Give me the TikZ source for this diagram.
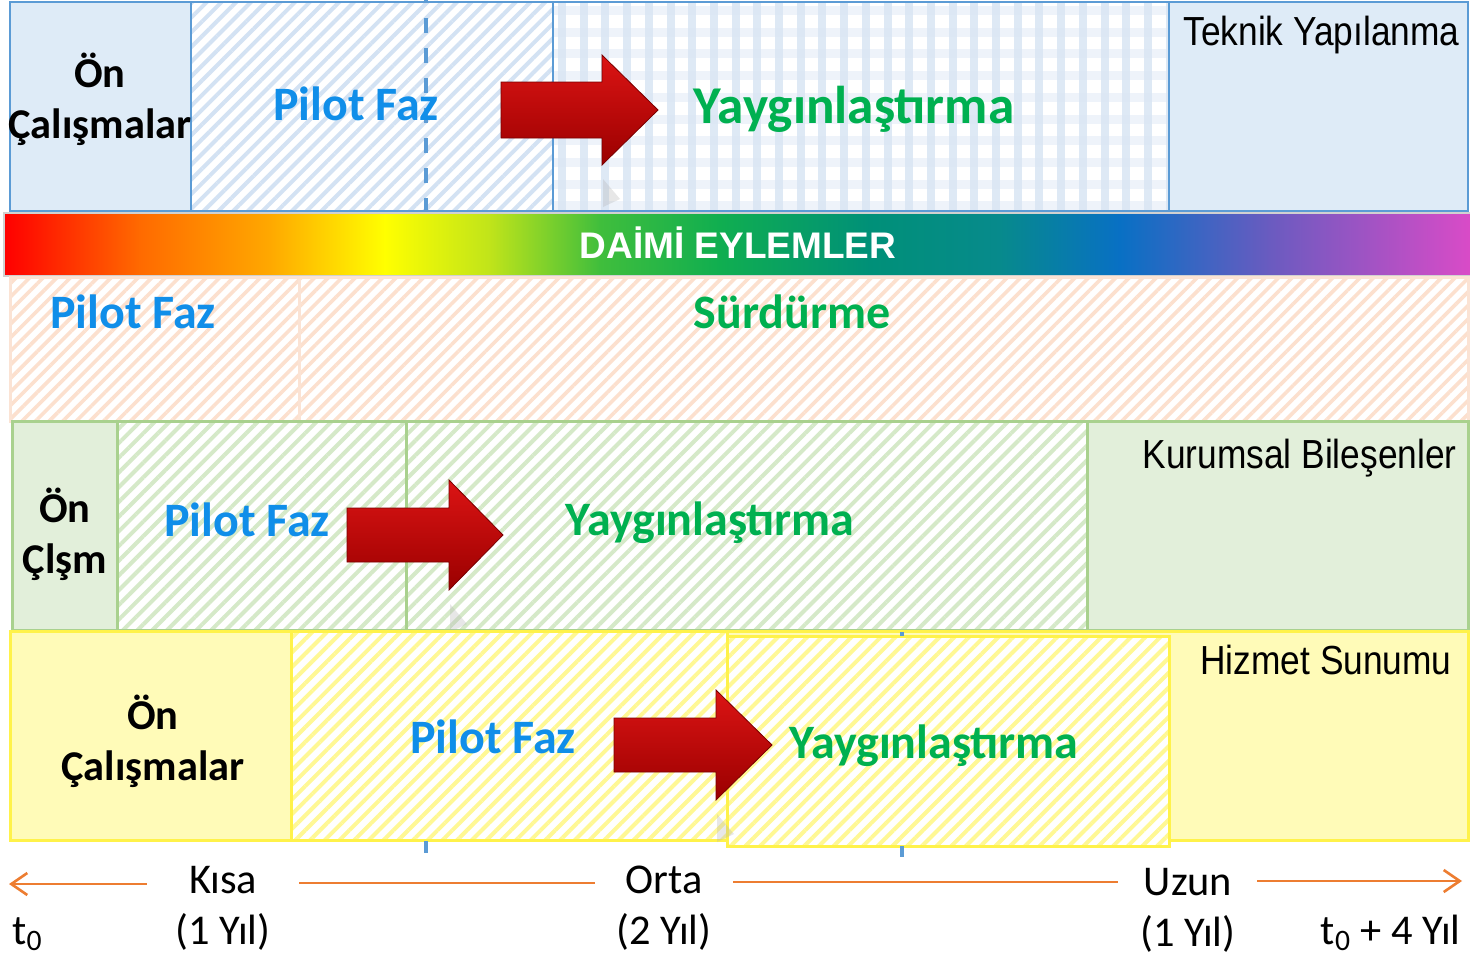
\documentclass[tikz,border=0pt]{standalone}
\usepackage{fontspec}
\setmainfont{Carlito}
\newfontfamily\mynarrowfont[FakeStretch=0.87]{Liberation Sans}
\newfontfamily\myarialfont{Liberation Sans}
\usetikzlibrary{patterns.meta,arrows.meta}
\definecolor{bordblue}{HTML}{5B9BD5}
\definecolor{fillblue}{HTML}{DEEBF7}
\definecolor{hatchblue}{HTML}{D3E2F3}
\definecolor{checkH}{HTML}{EEF3FA}
\definecolor{checkV}{HTML}{D9E6F4}
\definecolor{bordgreen}{HTML}{A9D18E}
\definecolor{fillgreen}{HTML}{E2EFDA}
\definecolor{hatchgreen}{HTML}{D5E9C8}
\definecolor{bordyellow}{HTML}{FFF24A}
\definecolor{fillyellow}{HTML}{FFFBB8}
\definecolor{hatchyellow}{HTML}{FFF894}
\definecolor{bordorange}{HTML}{FBE3D4}
\definecolor{hatchorange}{HTML}{FCE0CE}
\definecolor{txtblue}{HTML}{108EE9}
\definecolor{txtgreen}{HTML}{00B050}
\definecolor{axisorange}{HTML}{ED7D31}
\definecolor{arrtop}{HTML}{DC1414}
\definecolor{arrmid}{HTML}{C40000}
\definecolor{arrbot}{HTML}{9A0000}
\definecolor{arrline}{HTML}{780000}
\newcommand\mybig{\fontsize{24}{28}\selectfont\bfseries}
\newcommand\myhuge{\fontsize{26.6}{30}\selectfont\bfseries}
\newcommand\myon{\fontsize{21.2}{25}\selectfont\bfseries}
\newcommand\myaxis{\fontsize{21.2}{25}\selectfont}
\newcommand\mylab{\fontsize{20.3}{24}\selectfont\mynarrowfont}
\newcommand\myRedArrow[6]{%
  \shade[top color=arrtop, middle color=arrmid, bottom color=arrbot, draw=arrline, line width=0.4pt]
    (#1,#4-#5) -- (#2,#4-#5) -- (#2,#4-#6) -- (#3,#4) -- (#2,#4+#6) -- (#2,#4+#5) -- (#1,#4+#5) -- cycle;
  \fill[black!30, opacity=0.3] (#2+1,#4+#6+14) -- (#2+18,#4+#6+34) -- (#2+1,#4+#6+42) -- cycle;
}
\tikzset{
  hatchB/.style={preaction={fill=white}, pattern={Lines[angle=45,distance=5.2pt,line width=2pt]}, pattern color=hatchblue},
  hatchG/.style={preaction={fill=white}, pattern={Lines[angle=45,distance=5.2pt,line width=2pt]}, pattern color=hatchgreen},
  hatchY/.style={preaction={fill=white}, pattern={Lines[angle=45,distance=5.2pt,line width=2pt]}, pattern color=hatchyellow},
  hatchO/.style={preaction={fill=white}, pattern={Lines[angle=45,distance=4.8pt,line width=1.8pt]}, pattern color=hatchorange},
  ttl/.style={inner sep=0pt, anchor=base},
  pilot/.style={ttl, font=\mybig, text=txtblue},
  yayg/.style={ttl, font=\mybig, text=txtgreen},
  ontxt/.style={ttl, font=\myon, text=black},
  lab/.style={inner sep=0pt, anchor=base east, font=\mylab, text=black},
  axtxt/.style={inner sep=0pt, anchor=base, font=\myaxis, text=black},
  axline/.style={draw=axisorange, line width=1.3pt},
  tick/.style={draw=bordblue, line width=2pt},
}
\begin{document}
\begin{tikzpicture}[x=0.5pt,y=-0.5pt]
\useasboundingbox (0,0) rectangle (1470,959);
\fill[white] (0,0) rectangle (1470,959);

% ---------- Row 1: Teknik Yapilanma ----------
\fill[fillblue] (10,2) rectangle (1468,211);
\path[hatchB] (191,2) rectangle (553,211);
\begin{scope}
  \clip (553,2) rectangle (1169,211);
  \fill[white] (553,2) rectangle (1169,211);
  \foreach \yy in {0,21.7,...,215} \fill[checkH] (553,\yy+6) rectangle (1169,\yy+15);
  \foreach \xx in {558,579.7,...,1170} \fill[checkV, opacity=0.85] (\xx,2) rectangle (\xx+8,211);
\end{scope}
\draw[bordblue, line width=1.2pt] (10,2) rectangle (1468,211);
\draw[bordblue, line width=1.2pt] (191,2) -- (191,211);
\draw[bordblue, line width=1.2pt] (553,2) -- (553,211);
\draw[bordblue, line width=1.2pt] (1169,2) -- (1169,211);
\draw[bordblue, line width=2pt, dash pattern=on 7.5pt off 7.5pt, dash phase=6pt] (426,0) -- (426,211);
\myRedArrow{501}{602}{658}{110}{28}{55}
\node[ontxt] (on1a) at (100,87) {Ön};
\node[ontxt] (on1b) at (100,138) {Çalışmalar};
\node[pilot] (pf1) at (356,120) {Pilot Faz};
\node[ttl, font=\myhuge, text=txtgreen] (yg1) at (854,123) {Yaygınlaştırma};
\node[lab] (tek) at (1460,45) {Teknik Yapılanma};

% ---------- Row 2: rainbow bar ----------
\fill[black!18] (3,212) rectangle (1470,277);
\shade[left color={rgb,255:red,255;green,0;blue,0}, right color={rgb,255:red,255;green,106;blue,0}] (5,214) rectangle (140,274);
\shade[left color={rgb,255:red,255;green,106;blue,0}, right color={rgb,255:red,255;green,168;blue,0}] (139.5,214) rectangle (270,274);
\shade[left color={rgb,255:red,255;green,168;blue,0}, right color={rgb,255:red,255;green,255;blue,0}] (269.5,214) rectangle (385,274);
\shade[left color={rgb,255:red,255;green,255;blue,0}, right color={rgb,255:red,192;green,228;blue,26}] (384.5,214) rectangle (490,274);
\shade[left color={rgb,255:red,192;green,228;blue,26}, right color={rgb,255:red,64;green,190;blue,60}] (489.5,214) rectangle (600,274);
\shade[left color={rgb,255:red,64;green,190;blue,60}, right color={rgb,255:red,16;green,174;blue,80}] (599.5,214) rectangle (720,274);
\shade[left color={rgb,255:red,16;green,174;blue,80}, right color={rgb,255:red,0;green,144;blue,120}] (719.5,214) rectangle (870,274);
\shade[left color={rgb,255:red,0;green,144;blue,120}, right color={rgb,255:red,7;green,138;blue,140}] (869.5,214) rectangle (1000,274);
\shade[left color={rgb,255:red,7;green,138;blue,140}, right color={rgb,255:red,8;green,112;blue,196}] (999.5,214) rectangle (1120,274);
\shade[left color={rgb,255:red,8;green,112;blue,196}, right color={rgb,255:red,106;green,91;blue,192}] (1119.5,214) rectangle (1270,274);
\shade[left color={rgb,255:red,106;green,91;blue,192}, right color={rgb,255:red,217;green,75;blue,199}] (1269.5,214) rectangle (1470,274);
\node[ttl, font=\fontsize{18.5}{22}\selectfont\myarialfont\bfseries, text=white] (daimi) at (738,258) {DAİMİ EYLEMLER};

% ---------- Row 3: Surdurme ----------
\path[hatchO] (10,277) rectangle (1468,421);
\draw[bordorange, line width=1.5pt] (10,277) rectangle (1468,421);
\draw[bordorange, line width=1.5pt] (299,277) -- (299,421);
\node[pilot] (pf3) at (133,328) {Pilot Faz};
\node[yayg] (sur) at (792,328) {Sürdürme};

% ---------- Row 4: Kurumsal Bilesenler ----------
\fill[fillgreen] (12,421) rectangle (1468,630);
\path[hatchG] (117,421) rectangle (406,630);
\path[hatchG] (406,421) rectangle (1087,630);
\draw[bordgreen, line width=1.5pt] (12,421) rectangle (1468,630);
\draw[bordgreen, line width=1.5pt] (117,421) rectangle (406,630);
\draw[bordgreen, line width=1.5pt] (406,421) rectangle (1087,630);
\myRedArrow{347}{449}{503}{535}{27}{55}
\node[ontxt] (on4a) at (65,522) {Ön};
\node[ontxt] (on4b) at (65,573) {Çlşm};
\node[pilot] (pf4) at (247,536) {Pilot Faz};
\node[yayg] (yg4) at (710,535) {Yaygınlaştırma};
\node[lab] (kur) at (1457,468) {Kurumsal Bileşenler};

% ---------- Row 5: Hizmet Sunumu ----------
\fill[fillyellow] (10,631) rectangle (1468,840);
\path[hatchY] (291,631) rectangle (727,840);
\draw[bordyellow, line width=1.5pt] (10,631) rectangle (1468,840);
\draw[bordyellow, line width=1.5pt] (291,631) rectangle (727,840);
\path[hatchY] (727,636) rectangle (1169,846);
\draw[bordyellow, line width=1.5pt] (727,636) rectangle (1169,846);
\myRedArrow{614}{716}{772}{745}{27}{55}
\node[ontxt] (on5a) at (153,729) {Ön};
\node[ontxt] (on5b) at (153,780) {Çalışmalar};
\node[pilot] (pf5) at (493,753) {Pilot Faz};
\node[yayg] (yg5) at (934,758) {Yaygınlaştırma};
\node[lab] (hiz) at (1452,674) {Hizmet Sunumu};

% ticks (remnants of the phase separators)
\draw[tick] (426,841) -- (426,853);
\draw[tick] (902,846) -- (902,857);
\draw[tick] (902,632) -- (902,636);

% ---------- Time axis ----------
\node[axtxt] (kisa) at (223,893) {Kısa};
\node[axtxt] (kisay) at (223,944) {(1 Yıl)};
\node[axtxt] (orta) at (664,893) {Orta};
\node[axtxt] (ortay) at (664,944) {(2 Yıl)};
\node[axtxt] (uzun) at (1188,895) {Uzun};
\node[axtxt] (uzuny) at (1188,946) {(1 Yıl)};
\node[inner sep=0pt, anchor=base west, font=\myaxis] (t0) at (12,944) {t\textsubscript{0}};
\node[inner sep=0pt, anchor=base east, font=\myaxis] (t4) at (1461,944) {t\textsubscript{0} + 4 Yıl};
\coordinate (axA) at (9,884);
\coordinate (axB) at (147,884);
\coordinate (axC) at (299,883);
\coordinate (axD) at (595,883);
\coordinate (axE) at (733,882);
\coordinate (axF) at (1118,882);
\coordinate (axG) at (1257,881);
\coordinate (axH) at (1462,881);
\draw[axline, {Straight Barb[length=8pt,width=11pt,line width=1.3pt]}-] (axA) -- (axB);
\draw[axline] (axC) -- (axD);
\draw[axline] (axE) -- (axF);
\draw[axline, -{Straight Barb[length=8pt,width=11pt,line width=1.3pt]}] (axG) -- (axH);
\end{tikzpicture}
\end{document}
